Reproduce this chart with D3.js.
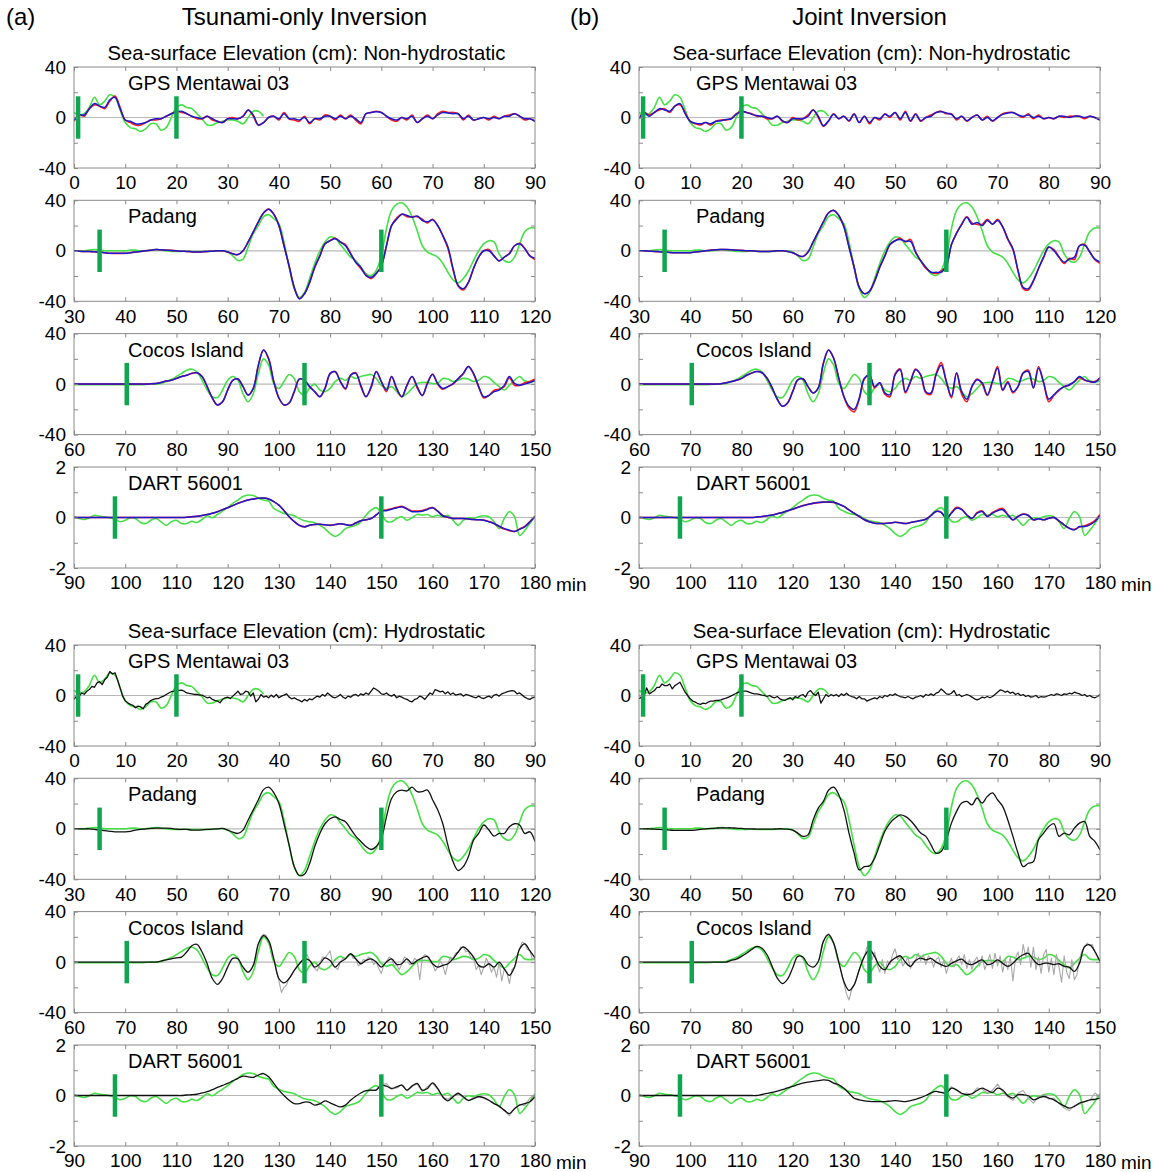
<!DOCTYPE html>
<html><head><meta charset="utf-8">
<script src="https://cdn.jsdelivr.net/npm/d3@7"></script>
<style>
body{margin:0;background:#fff;}
svg{display:block;font-family:"Liberation Sans",Arial,Helvetica,sans-serif;}
</style></head><body>
<svg id="chart" width="1162" height="1172"></svg>
<script>
// ---------------- DATA ----------------
const stationNames = ["GPS Mentawai 03", "Padang", "Cocos Island", "DART 56001"];
const stationStart = [0, 30, 60, 90];
const stationMax = [40, 40, 40, 2];
const barTimes = [[0.8, 20], [35, 90], [70.3, 105], [98, 150]];
const columnTitles = ["Tsunami-only Inversion", "Joint Inversion"];
const columnLetters = ["(a)", "(b)"];
const sectionTitles = ["Sea-surface Elevation (cm): Non-hydrostatic", "Sea-surface Elevation (cm): Hydrostatic"];

// Observed (green), 1-min samples
const gpsObs = [4,2,3,8,16,10,13,18,16,6,-4,-8,-9,-11,-9,-5,-5,-10,-8,0,8,10,8,7,3,-1,-6,-6,-4,-3,-2,-2,-3,-5,0,5,5,1];
const padObs = [0,0,0,0.5,1,0.5,0,0,0,0, 0,0.5,0.5,0,0,0.5,1,0.5,0,-0.5, -0.5,-0.5,-0.3,-0.5,-0.5,-0.5,-0.5,-0.3,0,0,
  -1,-4,-7.7,-6.6,3,13.5,20,27,28.6,25.4, 21.5,7,-13,-30,-37,-33,-22,-10,0,7, 11,10,5,0,-5,-7.7,-13,-18,-19.6,-15.6,
  -4,17.5,32,37,38,34.7,27,16,4,-1, -3,-5,-10,-17,-23,-25.4,-22,-16,-7.7,0, 5.5,8,7,-2.4,-7.7,-9,-5,5.5,15,18,18];
const cocObs = [-0.5,-0.5,-0.5,-0.5,-0.5,-0.5,-0.5,-0.5,-0.5,-0.5, -0.5,-0.5,-0.5,-0.5,-0.3,0,0,0.5,2,3.7,
  6,8.5,11,11.8,9.7,3,-4.7,-10,-10.6,-4.7, 3,6,3,-7.6,-14,-7.6,8.5,20,15,0.5, -3.4,2,7.6,4.5,-6,-8.7,-3,0,-4.7,-6,
  -3.4,2,4.5,3,6,4.5,6,7,7.6,4.5, -1,-3.4,-2,-6,-10,-7.6,-3.4,0.5,1.3,1.3, 0.5,0.5,4.5,4,2,3,4.5,4,2,3, 6,5,1.3,-2,-4.7,-1,3,6,2.4,2,2.4];
const dartObs = [0.03,-0.04,-0.08,-0.01,0.09,0.05,0.03,-0.01,-0.07,-0.17, -0.11,-0.01,-0.04,-0.2,-0.24,-0.11,-0.04,-0.17,-0.31,-0.17,
  -0.11,-0.24,-0.24,-0.15,-0.2,-0.08,0.07,-0.01,0.12,0.25, 0.39,0.56,0.69,0.83,0.89,0.87,0.76,0.69,0.65,0.36,
  0.25,0.16,0.12,0.07,-0.04,-0.13,-0.17,-0.21,-0.31,-0.44, -0.64,-0.75,-0.64,-0.44,-0.37,-0.31,-0.17,0.09,0.29,0.39,
  0.16,-0.15,-0.17,-0.04,0.03,-0.11,-0.01,0.12,0.09,0.12, 0.03,0.09,0.03,0.09,-0.11,-0.31,-0.11,-0.01,-0.04,0.03,
  0.07,0.03,-0.17,-0.44,-0.04,0.23,0.03,-0.71,-0.51,-0.24,0.07];

// Non-hydrostatic, tsunami-only inversion (blue / red), 1-min samples
const gpsNhTsuBlue = [-2,2,2,7,11,9,8,14,16,7, -2,-3,-5,-5,-4,-2,-1,-1,1,3, 4.5,5,3,1,0,-1,1,-1,-3,-4, -1,-1,-1,1,6,2,-6,-4,0,1,
  -1,3,-1,-1,-2,0,-4,-1,-1,1, 1,-1,1,-1,1,-1,-4,3,4,4.5, 4,1,-1,-2,0,-1,1,-4,-1,1, -1,2,4,3.5,3,3,-1,1,-2,-1, 0,-1,0,-1,1,1,3,1,-1,-1,-3];
const gpsNhTsuRed = [-3,2,1,7,10,9,7,13,17,8, -2,-4,-6,-6,-4,-2,-2,-1,1,3, 5,4,3,1,-1,-1,1,-2,-3,-4, -1,0,-1,1,6,1,-6,-4,0,1,
  -2,4,-1,-2,-3,1,-5,-1,-2,2, 1,-2,2,-1,2,-2,-5,3,4,5, 4,1,-2,-3,0,-2,2,-4,-1,2, -1,3,5,4,4,3,-2,2,-2,-1, 0,-2,1,-1,1,2,3,1,-2,-1,-3];
const padNhTsuBlue = [0,-0.3,-0.5,-0.5,-0.8,-1,-1.5,-2,-2,-2, -2,-1.5,-1,-0.5,0,0.5,1,0.8,0.5,0.3, 0,-0.3,-0.5,-0.8,-1,-0.8,-0.5,-0.3,0,0,
  -1,-2.4,-3,0,7,15,23,30,33,29, 20,4,-12,-29,-38,-34,-25,-13,-4,5.5, 8,9.5,7,4,-2.4,-9,-13,-19.6,-21,-18,
  -12,4,20,25,29,28,26.5,27.5,24,23, 24.5,20,12,3,-14,-27.5,-30,-25,-14,-5, 0,0,-4,-8,-5,-2.4,4,5.5,1.6,-4,-6];
const padNhTsuRed = [0,-0.3,-0.5,-0.5,-0.8,-1,-1.5,-2,-2,-2, -2,-1.5,-1,-0.5,0,0.5,1,0.8,0.5,0.3, 0,-0.3,-0.5,-0.8,-1,-0.8,-0.5,-0.3,0,0,
  -1,-2.4,-3,0,7,15,23,30,33,29, 20,4,-12,-29,-38,-34,-25,-13,-4,5.5, 8,10,7,5,-2,-9,-14,-19,-22,-18,
  -12,4,20,26,29,27,27,27,25,22, 25,20,12,2,-15,-28,-31,-25,-14,-5, 0,1,-4,-8,-5,-2,4,6,2,-4,-7];
const cocNhTsuBlue = [0,0,0,0,0,0,0,0,0,0, 0,0,0,0,0,0.3,0.5,1.3,2.4,3, 4.5,6,7,8.5,9,6,-2,-11,-16.5,-14,
  -4.7,3,4,-2,-8.7,-3.4,15,27,20,2, -11,-16.5,-15,-6,4,3,-2,-6,-10,-3.4, 8.5,9.7,2,-3.4,7,8.5,-1,-10,-2,9.7,
  2,-4.7,6,-3.4,-10,-1,6,-2,-9,0.5, 7.6,0.5,-3.4,-2,0.5,4.5,8.5,14,8.5,-2, -10,-9,-6,-4.7,-1,6,0.5,-1,0,1.3,3];
const cocNhTsuRed = [0,0,0,0,0,0,0,0,0,0, 0,0,0,0,0,0.3,0.5,1.3,2.4,3, 4.5,6,7,8.5,9,6,-2,-11,-16.5,-14,
  -4.7,3,4,-2,-8.7,-3.4,15,27,20,2, -11,-16.5,-15,-6,4,3,-2,-6,-10,-3.4, 8,10,2,-4,7,9,-2,-10,-3,10,
  2,-6,6,-4,-10,-1,6,-3,-9,1, 8,0,-4,-2,0,4,8,14,8,-2, -11,-9,-5,-4,-2,5,-1,-1,1,2,4];
const dartNhTsuBlue = [0,0,0,0,0,0,0,0,0,0, 0,0,0,0,0,0,0,0,0,0, 0,0,0.01,0.03,0.05,0.08,0.12,0.17,0.23,0.31,
  0.39,0.47,0.56,0.63,0.69,0.73,0.76,0.77,0.73,0.63, 0.49,0.27,0.03,-0.16,-0.31,-0.37,-0.31,-0.28,-0.27,-0.29,
  -0.31,-0.28,-0.25,-0.28,-0.31,-0.22,-0.13,-0.09,-0.04,0.1, 0.25,0.27,0.33,0.38,0.43,0.33,0.23,0.23,0.25,0.32,
  0.39,0.25,0.07,0.01,-0.04,-0.04,-0.04,-0.06,-0.08,-0.09, -0.11,-0.17,-0.24,-0.34,-0.44,-0.5,-0.55,-0.47,-0.37,-0.18,0.03];
const dartNhTsuRed = [0,0,0,0,0,0,0,0,0,0, 0,0,0,0,0,0,0,0,0,0, 0,0,0.01,0.03,0.05,0.08,0.12,0.17,0.23,0.31,
  0.39,0.47,0.56,0.63,0.69,0.73,0.76,0.77,0.73,0.63, 0.49,0.27,0.03,-0.16,-0.31,-0.37,-0.31,-0.28,-0.27,-0.29,
  -0.31,-0.28,-0.25,-0.28,-0.31,-0.22,-0.13,-0.09,-0.04,0.1, 0.27,0.3,0.35,0.4,0.44,0.35,0.26,0.26,0.28,0.34,
  0.39,0.25,0.07,0.01,-0.04,-0.04,-0.04,-0.06,-0.08,-0.09, -0.1,-0.16,-0.24,-0.36,-0.46,-0.52,-0.55,-0.45,-0.35,-0.16,0.05];

// Non-hydrostatic, joint inversion (blue / red), 1-min samples
const gpsNhJntBlue = [-1,4,1,4,7,6,5,9,11,3, -3,-4.5,-5,-4,-5,-3,-2.5,-1.5,-1,2.5, 5,4,2.5,1.5,1,0,-1,1,-2.5,-4, -1,-1,-1,1,6,1,-6.5,-2.5,2.5,-1,
  1,-2.5,2.5,-4,1,-4,0,-1,2.5,1, 4,-1,4,-2.5,2.5,-2.5,0,1,4,4.5, 3.5,2.5,-1,1,-2.5,0,2,-2,0,-2.5, 0,2.5,3.5,4,2,1,2,0,1,-1, 0,-1,1,1,0,1,1,0,1,0,-2];
const gpsNhJntRed = [-1,4,2,4,6,7,4,9,10,4, -3,-5,-6,-4,-6,-3,-2,-2,-1,3, 5,4,3,1,1,-1,-1,1,-3,-4, 0,-2,-1,2,6,0,-7,-3,3,-1,
  1,-3,3,-4,1,-5,0,-2,3,0, 4,-2,5,-3,3,-3,0,2,4,5, 3,3,-2,1,-3,0,2,-2,1,-3, 0,3,4,4,2,0,3,-1,2,-1, 0,-1,1,0,1,1,1,-1,1,0,-2];
const padNhJntBlue = [0,0,-0.3,-0.5,-0.8,-1,-1.3,-1.5,-1.5,-1.5, -1.5,-1,-0.5,0,0.5,0.8,1,1,0.8,0.5, 0.3,0,0,-0.3,-0.5,-0.5,-0.3,0,0,-0.5,
  -1.5,-3.5,-4.5,-1,7,15,23,30,32,28, 19,3,-13,-29,-34,-32,-24,-13,-4,5, 8,9,7.5,7.5,-1,-8,-13,-17,-17,-17,
  -12,5,14,21,26.5,21,22.5,20,24,21, 24,19,9.5,1.6,-15.6,-29,-30,-23.6,-14,-5, 3,0,-5,-9,-6.6,-5,4,4.5,-1,-6.6,-9];
const padNhJntRed = [0,0,-0.3,-0.5,-0.8,-1,-1.3,-1.5,-1.5,-1.5, -1.5,-1,-0.5,0,0.5,0.8,1,1,0.8,0.5, 0.3,0,0,-0.3,-0.5,-0.5,-0.3,0,0,-0.5,
  -1.5,-3.5,-4.5,-1,7,15,23,30,32,28, 19,3,-13,-29,-34,-32,-24,-13,-4,5, 8,10,7,9,-1,-8,-14,-17,-18,-16,
  -12,5,14,21,27,22,21,21,25,21, 25,19,9,1,-16,-30,-31,-24,-14,-5, 3,1,-5,-10,-6,-7,4,5,-1,-7,-10];
const cocNhJntBlue = [0,0,0,0,0,0,0,0,0,0, 0,0,0,0,0,0,0.3,1,2,3, 4.5,7,8.7,10,9,4.7,-3,-12,-17.6,-15,
  -6,3.4,4.2,-2,-7,-3,16.5,27,20.5,4.7, -9.7,-17.6,-20,-11,4.7,7,-2,1,-7,-8.4, 7.4,11.3,-6,2,11.3,7.4,-6,-7,7.4,15,
  2,-9.7,8.7,-6,-12,-2,3.4,1,-8.4,2, 12.6,-4.5,1,-6,-2,8.7,10,-3,12.6,1, -12,-8.4,-4.5,-2,-0.5,2,6,3.4,2,1.5,5];
const cocNhJntRed = [0,0,0,0,0,0,0,0,0,0, 0,0,0,0,0,0,0.3,1,2,3, 4.5,7,8.7,10,9,4.7,-3,-12,-17.6,-15,
  -6,3.4,4.2,-2,-7,-3,16.5,27,20.5,4.7, -10,-19,-22,-12,4,7,-3,1,-8,-10, 8,12,-7,2,12,7,-7,-8,8,17,
  2,-11,9,-8,-14,-2,4,0,-9,2, 14,-5,2,-7,-2,9,11,-3,14,1, -14,-9,-5,-2,-1,2,5,3,2,2,5];
const dartNhJntBlue = [0,0,0,0,0,0,0,0,0,0, 0,0,0,0,0,0,0,0,0,0, 0,0,0,0.02,0.04,0.07,0.1,0.15,0.2,0.27,
  0.33,0.4,0.47,0.52,0.56,0.59,0.61,0.61,0.6,0.53, 0.44,0.3,0.17,0.04,-0.09,-0.17,-0.23,-0.24,-0.24,-0.22,
  -0.19,-0.21,-0.24,-0.2,-0.16,-0.12,-0.07,0.08,0.24,0.2, -0.03,0.17,0.37,0.31,0.1,-0.03,0.17,0.24,0.04,0.17,
  0.27,0.31,0.1,-0.09,0.04,0.13,0.08,-0.09,-0.05,-0.09, -0.03,0,-0.13,-0.29,-0.43,-0.49,-0.36,-0.36,-0.29,-0.16,0.08];
const dartNhJntRed = [0,0,0,0,0,0,0,0,0,0, 0,0,0,0,0,0,0,0,0,0, 0,0,0,0.02,0.04,0.07,0.1,0.15,0.2,0.27,
  0.33,0.4,0.47,0.52,0.56,0.59,0.61,0.61,0.6,0.53, 0.44,0.3,0.17,0.04,-0.09,-0.17,-0.23,-0.24,-0.24,-0.22,
  -0.19,-0.21,-0.24,-0.2,-0.16,-0.12,-0.07,0.08,0.24,0.2, -0.03,0.2,0.4,0.33,0.1,-0.04,0.19,0.26,0.05,0.2,
  0.3,0.36,0.12,-0.1,0.05,0.14,0.09,-0.1,-0.05,-0.09, -0.03,0,-0.14,-0.3,-0.42,-0.47,-0.38,-0.33,-0.25,-0.12,0.12];

// Hydrostatic, tsunami-only inversion (black; gray = unfiltered)
const gpsHTsuBlack = [ // 0.5-min samples
  -3,-0.5,-0.5,2,1,3.4,4.7,7.3,6.5,10, 11,8.6,12.5,14.4,19,17,18,12.5,6,-0.5,
  -4.4,-5.8,-7,-7.8,-9.7,-8.4,-9,-10.5,-7,-5.8, -4,-3,-2.4,-2.4,-1.3,-0.5,0.8,2,3,3.4,
  4,4,4.2,3.4,2,1.6,1.3,0.8,0.8,0.3, 0.3,-0.8,-1.8,-1.3,-3,-3.9,-4.4,-5.8,-3,-1.8,
  -1.3,-2.4,-0.5,1.3,3.4,0.8,1.3,3.4,2.9,-0.5, 2,-5,-3,0.8,-1.3,-0.5,-1.8,0.3,-1.3,0.8,
  -1.8,-0.5,0.3,1.3,-1.3,-2.6,-1.8,-3.1,-3.9,-5, -3.1,-4.4,-2.6,-3.4,-1.8,-0.5,-1.3,0.8,-0.5,2,
  0.3,-1.3,-1.8,-0.8,0.8,-1.3,-2.4,-0.5,-1.3,0.3, 0.8,-0.5,1.3,0.3,2,0.8,3.4,6,4.7,3.4,
  1.3,0.8,2,0.3,-0.5,0.8,-1.8,-0.5,-1.3,-2.4, -3.1,-4.4,-5,-3.1,-2.4,-0.5,-1.3,-3.1,-0.5,2,
  0.8,4.7,3.9,2.9,3.4,1.3,2.9,0.8,2,0.3, 0.8,1.3,-0.5,0.8,0.3,-0.5,-1.3,-1.8,-0.5,-1.8,
  -2.4,-1.3,-0.5,-1.8,0.3,0.8,-0.5,1.3,2,2.9, 3.4,3.9,3.4,1.3,2,0.3,-1.3,-2.4,-3.1,-1.8, -1.3];
const padHTsuBlack = [0,0,0,0,-0.5,-1,-1.5,-2,-2.4,-2.4, -2.4,-2,-1,-0.5,0,0.3,0.5,0.5,0.5,0.3, -0.3,-0.5,-0.5,-1,-1,-0.8,-0.5,-0.3,0,0.3,
  -1,-2.6,-3.7,-1,7,15,23,31,33,28.6, 20,4,-13,-30,-37,-36,-27.5,-14,-3.7,4, 8,9.5,7.4,5.5,0,-5.8,-10,-14,-16.4,-14,
  -7.7,9.5,24,29.4,30.7,30,33,29.4,29.4,30.7, 23,15,4,-13,-26,-33,-30,-22,-9,-3.7, 3,-1,-5.8,-3.7,-3.7,1.6,4,3,-3.7,-2.4,-10];
const cocHTsuBlack = [0,0,0,0,0,0,0,0,0,0, 0,0,0,0,0,0,0,0.8,1.8,2.6, 3.4,4,8,13,14,8,-1.3,-13,-17.6,-13,
  -4,3,2.6,-4,-8,-2.6,14.5,21,17,2.6, -13,-16.5,-13,-6.6,-1.3,2.6,1.3,-4,-1.3,3.4, 1.3,-4,0,2.6,6.6,2.6,-1.3,1.3,2.6,0,
  -4,0,2.6,-1.8,-1.3,2.6,-1.3,1.3,3.4,4.5, -1.3,-4,-2.6,-1.3,2.6,8,12,9,4,-2.6, -4,-1.3,-4,0,-5.3,-10.5,-4,10.5,14.5,9,3.4];
const cocHTsuGray = [ // 0.5-min samples from 95 min
  -2.6,5,14.5,20,22,21,17,10,2.6,-6, -15,-24,-20,-18,-13,-10,-6.6,-4,-1.3,1,
  2.6,6,1.3,-2,-5,-7,-1.3,4,3.4,6, 9,-2,-4,-6,0,3,2.6,5,6.6,3,
  2.6,-3,-1.3,2,1.3,4,2.6,-2,0,-5, -9,-2,0,4,2.6,-3,-1.8,-6,-1.3,4,
  2.6,-2,-1.3,3,1.3,-14,3.4,6,4.5,0, -1.3,-7,-4,1,-2.6,-10,-1.3,4,2.6,7,
  8,12,12,8,9,3,4,-6,-2.6,-10, -4,3,-1.3,-8,-4,-12,0,-15,-5.3,-8,
  -17,-6,-4,5,10.5,16,14.5,10,9,2, 3.4];
const dartHTsuBlack = [0,0,0,0,0,0,0,0,0,0, 0,0,0,0,0,0,0,0,0,0, 0,0,0.02,0.03,0.05,0.1,0.15,0.23,0.32,0.4,
  0.48,0.58,0.68,0.77,0.74,0.72,0.81,0.87,0.74,0.48, 0.21,0,-0.19,-0.32,-0.32,-0.26,-0.27,-0.38,-0.33,-0.21,
  -0.29,-0.38,-0.45,-0.38,-0.19,-0.03,0.1,0.19,0.21,0.21, 0.41,0.37,0.28,0.34,0.41,0.21,0.37,0.48,0.21,0.28,
  0.5,0.28,-0.05,-0.21,-0.05,0.08,-0.05,-0.19,-0.12,-0.05, -0.08,-0.19,-0.32,-0.42,-0.58,-0.72,-0.52,-0.38,-0.32,-0.25,-0.05];
const dartHTsuGray = [0.21,0.23,0.43,0.47,0.25,0.3,0.43,0.18,0.4,0.45,0.15,0.35,0.48,0.25,-0.08,-0.15,-0.02,0.12,-0.1,-0.22,
  -0.08,-0.02,-0.12,-0.2,-0.3,-0.45,-0.6,-0.8,-0.5,-0.35,-0.4,-0.1,-0.02]; // from 148 min

// Hydrostatic, joint inversion
const gpsHJntBlack = [ // 0.5-min samples
  -2.6,-1.3,0,6,1.3,2.6,3.9,6.5,6.5,9.1, 7.8,7.8,9.1,5.2,7.8,9.1,10.5,6.5,2.6,0,
  -2.6,-4.4,-5.2,-6.5,-7,-6,-6.5,-5.2,-4.4,-4.4, -3.9,-3.9,-3.4,-2.6,-2.1,-1.3,-0.3,0.8,1.8,2.6,
  3.1,3.4,3.4,2.6,1.8,1.3,1.3,0.8,0.3,0, -0.8,0,-1.3,-1.8,-0.8,-2.6,-3.4,-3.9,-2.6,-1.8,
  -3.4,-0.8,-1.8,0,0.8,-1.3,2.6,3.9,1.3,0, 2.6,-6,-2.6,0.8,-0.8,0.8,-0.3,0.8,-0.8,1.3,
  0,1.8,0,-0.8,-1.3,-2.6,-0.8,-2.6,-2.6,-4.4, -3.4,-2.6,-1.8,-2.6,-0.8,-1.8,0,-0.8,0.8,0,
  1.3,0,-0.8,-1.3,-1.8,-0.8,-1.8,-2.6,-1.3,-0.8, 0,-1.3,0.8,0,1.3,0,1.8,2.6,5.2,3.4,
  1.3,0.8,1.8,3.9,0,0.8,-0.8,0,0.8,0, -1.3,-2.6,-3.4,-2.6,-1.3,-1.8,-0.8,-1.8,-0.8,0.8,
  2.6,4.4,3.9,2.6,3.4,1.8,2.6,0.8,1.8,0, 0.8,-0.8,0,-1.3,-0.8,0,-1.8,-0.8,-1.3,-0.8,
  0,0.8,0,1.3,0.8,0,1.3,0.8,1.8,1.3, 2.6,1.8,1.3,0,0.8,-0.8,0,-1.3,-1.8,-0.8, 0.8];
const padHJntBlack = [0,0,0,-0.3,-0.5,-0.8,-1,-1.3,-1.3,-1.3, -1.3,-1,-0.5,0,0.3,0.5,0.8,0.8,0.8,0.5, 0.3,0,0,-0.3,-0.3,-0.3,-0.3,0,0,-0.3,
  -1,-3.4,-6,-4.8,7,16.4,21.7,30.5,33,27, 15,-3.4,-19.3,-32.6,-30,-29.4,-23.3,-12.7,-2,4.5, 8.5,11,9.8,6.6,1.8,-3.4,-6,-12.7,-19.3,-18,
  -8.7,4.5,13.8,20.4,21.7,19,24.4,20.4,25.7,28.4, 23,17.8,7,-6,-19.3,-30,-27.3,-26,-8.7,-3.4, 1.8,4,-6,-3.4,-4.8,0.5,4.5,5.8,-6,-10,-16.7];
const cocHJntBlack = [0,0,0,0,0,0,0,0,0,0, 0,0,0,0,0,0,0,0,1.3,2.4, 4.5,7,10,12.4,11,5.8,-3.4,-12.7,-17,-13.4,
  -4.7,4.5,4,-2,-4,0.5,16.4,21.7,15,0, -15.3,-22.4,-18,-6,4.5,9.8,4.5,-3.4,-6,0, 3.2,5,0,-3.4,1.3,3.2,1.8,3,0,-2,
  -3.4,-1,1,2.4,-1,-2,0,1.8,-2,-1, 1.8,-1,-3.4,-1,3.2,5.8,7,1.8,-2,-1, -1,-2,-1.3,-3.4,-4,-7.4,-1,12.4,13.7,8.4,0.5];
const cocHJntGray = [ // 0.5-min samples from 95 min
  0.5,8,16.4,21,22.5,20,15,8,0,-8, -17,-25,-30,-22,-18,-12,-6,-1,4.5,12,
  9.8,2,8,-2,-8,2,-9,1,-2,6, 10.5,2,5,-3,0,4,-5,0,1.3,7,
  1,6,-2,5,3,-4,2,4,-4,1, -9,-2,3,-4,2,5,-2,6,-5,2,
  -6,1,4,-3,5,-6,0,6,-5,7, -3,5,-8,2,-6,4,-15,3,8,-2,
  14,4,12,-4,12,-6,4,-9,6,10, -8,3,-10,6,-4,-16,5,-8,-13,2,
  -14,-10,3,9,12,15,13,14,8,4, 0.5];
const dartHJntBlack = [0,0,0,0,0,0,0,0,0,0, 0,0,0,0,0,0,0,0,0,0, 0,0,0,0,0.04,0.08,0.12,0.17,0.23,0.3,
  0.36,0.43,0.49,0.53,0.56,0.59,0.62,0.6,0.49,0.42, 0.29,0.09,-0.11,-0.17,-0.21,-0.23,-0.24,-0.24,-0.24,-0.22,
  -0.2,-0.22,-0.24,-0.2,-0.15,-0.08,0,0.1,0.16,0.12, 0.09,0.29,0.22,0.09,0.03,0.07,0.2,0.29,0.2,0.12,
  0.29,0.22,-0.01,-0.1,0.03,0.03,-0.01,-0.17,-0.1,-0.04, -0.1,-0.17,-0.3,-0.41,-0.5,-0.43,-0.3,-0.24,-0.17,-0.15,-0.1];
const dartHJntGray = [0.16,0.12,0.15,0.35,0.2,0.05,0.1,0.05,0.3,0.25,0.1,0.2,0.45,0.15,-0.05,-0.2,0.1,0.2,-0.1,-0.3,
  -0.05,0.05,-0.15,-0.1,-0.3,-0.5,-0.6,-0.4,-0.35,-0.25,-0.2,0.1,-0.05]; // from 148 min

// ---------------- LAYOUT ----------------
const colLeft = [74, 639];
const labelOffset = [54, 57];
const rowTop = [67, 200.3, 333.6, 467, 645, 778.3, 911.6, 1045];
const PW = 461, PH = 101;
const FONT = '"Liberation Sans", Arial, Helvetica, sans-serif';
const C = {green: "#45e045", bar: "#10a64f", red: "#ff1a1a", blue: "#1a1acc", black: "#111111", gray: "#a8a8a8", box: "#8a8a8a", zero: "#b8b8b8"};

const obsArrays = [gpsObs, padObs, cocObs, dartObs];
const nhModel = [
  [[gpsNhTsuRed, gpsNhTsuBlue], [padNhTsuRed, padNhTsuBlue], [cocNhTsuRed, cocNhTsuBlue], [dartNhTsuRed, dartNhTsuBlue]],
  [[gpsNhJntRed, gpsNhJntBlue], [padNhJntRed, padNhJntBlue], [cocNhJntRed, cocNhJntBlue], [dartNhJntRed, dartNhJntBlue]]
];
const hModel = [
  [[null, gpsHTsuBlack], [null, padHTsuBlack], [cocHTsuGray, cocHTsuBlack], [dartHTsuGray, dartHTsuBlack]],
  [[null, gpsHJntBlack], [null, padHJntBlack], [cocHJntGray, cocHJntBlack], [dartHJntGray, dartHJntBlack]]
];
const grayStart = [null, null, 95, 148];
const grayStep = [null, null, 0.5, 1];
const blackStep = [0.5, 1, 1, 1];

const svg = d3.select("#chart");

function seriesList(col, sec, k) {
  const t0 = stationStart[k];
  const list = [{data: obsArrays[k], t0, step: 1, color: C.green, width: 1.6, curve: d3.curveCatmullRom}];
  if (sec === 0) {
    const [r, b] = nhModel[col][k];
    list.push({data: r, t0, step: 1, color: C.red, width: 1.6, curve: d3.curveCatmullRom});
    list.push({data: b, t0, step: 1, color: C.blue, width: 1.5, curve: d3.curveCatmullRom});
  } else {
    const [g, b] = hModel[col][k];
    if (g) list.push({data: g, t0: grayStart[k], step: grayStep[k], color: C.gray, width: 1.1, curve: d3.curveLinear});
    list.push({data: b, t0, step: blackStep[k], color: C.black, width: 1.3, curve: blackStep[k] < 1 ? d3.curveLinear : d3.curveCatmullRom});
  }
  return list;
}

function styleAxis(g) {
  g.attr("font-size", 19).attr("font-family", FONT);
  g.select(".domain").remove();
  g.selectAll(".tick line").attr("stroke", C.box);
  g.selectAll(".tick text").attr("fill", "#000");
}

function addPanel(col, sec, k) {
  const x0 = colLeft[col], y0 = rowTop[sec * 4 + k];
  const t0 = stationStart[k], ym = stationMax[k];
  const x = d3.scaleLinear().domain([t0, t0 + 90]).range([x0, x0 + PW]);
  const y = d3.scaleLinear().domain([-ym, ym]).range([y0 + PH, y0]);
  const g = svg.append("g");
  const clipId = `clip-${col}-${sec}-${k}`;
  g.append("clipPath").attr("id", clipId).append("rect")
    .attr("x", x0).attr("y", y0).attr("width", PW).attr("height", PH);

  g.append("line").attr("x1", x0).attr("x2", x0 + PW).attr("y1", y(0)).attr("y2", y(0))
    .attr("stroke", C.zero).attr("stroke-width", 1.2);

  const lines = g.append("g").attr("clip-path", `url(#${clipId})`);
  for (const s of seriesList(col, sec, k)) {
    const line = d3.line().x((d, i) => x(s.t0 + i * s.step)).y(d => y(d)).curve(s.curve);
    lines.append("path").attr("d", line(s.data)).attr("fill", "none")
      .attr("stroke", s.color).attr("stroke-width", s.width).attr("stroke-linejoin", "round");
  }
  for (const bt of barTimes[k]) {
    g.append("line").attr("x1", x(bt)).attr("x2", x(bt))
      .attr("y1", y(0.42 * ym)).attr("y2", y(-0.42 * ym))
      .attr("stroke", C.bar).attr("stroke-width", 4.5);
  }

  const xt = d3.range(t0, t0 + 91, 10);
  const yt = [-ym, -ym / 2, 0, ym / 2, ym];
  const yfmt = d => (Math.abs(d) === ym || d === 0) ? String(d) : "";
  g.append("g").attr("transform", `translate(0,${y0 + PH})`)
    .call(d3.axisBottom(x).tickValues(xt).tickSize(-4).tickPadding(8).tickFormat(d => String(d))).call(styleAxis);
  g.append("g").attr("transform", `translate(0,${y0})`)
    .call(d3.axisTop(x).tickValues(xt).tickSize(-4).tickFormat("")).call(styleAxis);
  g.append("g").attr("transform", `translate(${x0},0)`)
    .call(d3.axisLeft(y).tickValues(yt).tickSize(-4).tickPadding(8).tickFormat(yfmt)).call(styleAxis);
  g.append("g").attr("transform", `translate(${x0 + PW},0)`)
    .call(d3.axisRight(y).tickValues(yt).tickSize(-4).tickFormat("")).call(styleAxis);

  g.append("rect").attr("x", x0).attr("y", y0).attr("width", PW).attr("height", PH)
    .attr("fill", "none").attr("stroke", C.box).attr("stroke-width", 1);

  g.append("text").attr("x", x0 + labelOffset[col]).attr("y", y0 + 23)
    .attr("font-size", 20).attr("font-family", FONT).text(stationNames[k]);

  if (k === 3) {
    g.append("text").attr("x", x0 + PW + 21).attr("y", y0 + PH + 22.5)
      .attr("font-size", 19).attr("font-family", FONT).text("min");
  }
}

for (let col = 0; col < 2; col++) {
  for (let sec = 0; sec < 2; sec++) {
    for (let k = 0; k < 4; k++) addPanel(col, sec, k);
  }
  const cx = colLeft[col] + PW / 2;
  svg.append("text").attr("x", cx).attr("y", 25).attr("text-anchor", "middle")
    .attr("font-size", 24).attr("font-family", FONT).text(columnTitles[col]);
  svg.append("text").attr("x", col === 0 ? 6 : 570).attr("y", 25)
    .attr("font-size", 24).attr("font-family", FONT).text(columnLetters[col]);
  svg.append("text").attr("x", cx + 2).attr("y", 60).attr("text-anchor", "middle")
    .attr("font-size", 20.3).attr("font-family", FONT).text(sectionTitles[0]);
  svg.append("text").attr("x", cx + 2).attr("y", 638).attr("text-anchor", "middle")
    .attr("font-size", 20.3).attr("font-family", FONT).text(sectionTitles[1]);
}
</script>
</body></html>
